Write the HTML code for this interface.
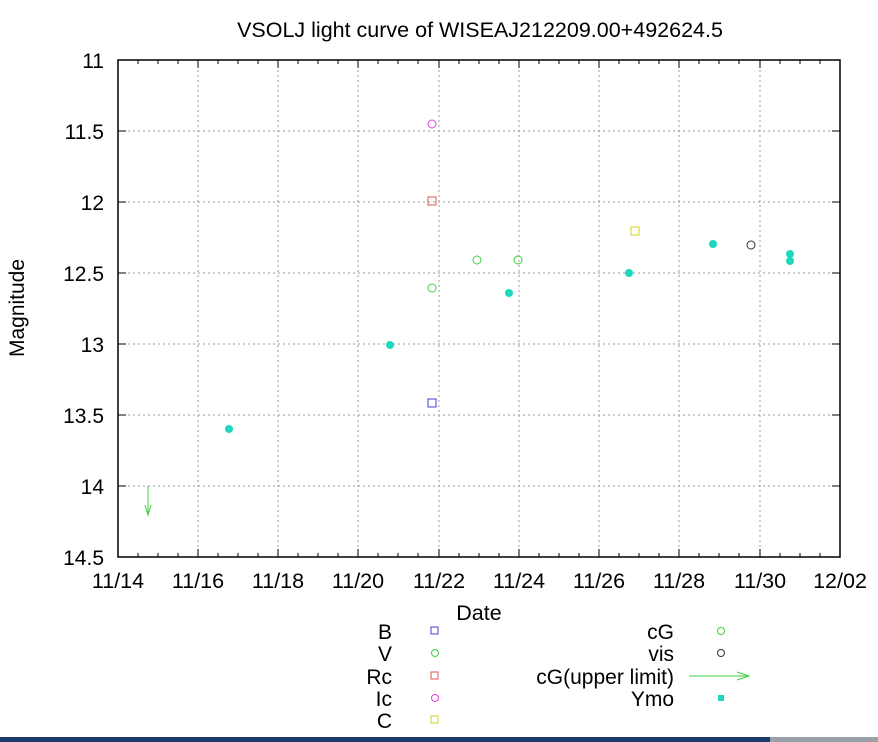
<!DOCTYPE html><html><head><style>body{margin:0;background:#fff}svg{display:block;font-family:"Liberation Sans",sans-serif}</style></head><body>
<svg width="878" height="742" xmlns="http://www.w3.org/2000/svg">
<rect width="878" height="742" fill="#fff"/>
<text x="480" y="37" font-size="21.5" text-anchor="middle">VSOLJ light curve of WISEAJ212209.00+492624.5</text>
<g stroke="#999" stroke-dasharray="2,3" stroke-width="1">
<line x1="118" x2="840" y1="131" y2="131"/><line x1="118" x2="840" y1="202" y2="202"/><line x1="118" x2="840" y1="273" y2="273"/><line x1="118" x2="840" y1="344" y2="344"/><line x1="118" x2="840" y1="415" y2="415"/><line x1="118" x2="840" y1="486" y2="486"/>
<line y1="60" y2="557" x1="198" x2="198"/><line y1="60" y2="557" x1="278" x2="278"/><line y1="60" y2="557" x1="358" x2="358"/><line y1="60" y2="557" x1="439" x2="439"/><line y1="60" y2="557" x1="519" x2="519"/><line y1="60" y2="557" x1="599" x2="599"/><line y1="60" y2="557" x1="679" x2="679"/><line y1="60" y2="557" x1="760" x2="760"/>
</g>
<rect x="118" y="60" width="722" height="497" fill="none" stroke="#000" stroke-width="1.5"/>
<g stroke="#000" stroke-width="1">
<path d="M118 131h8M118 202h8M118 273h8M118 344h8M118 415h8M118 486h8M840 131h-8M840 202h-8M840 273h-8M840 344h-8M840 415h-8M840 486h-8"/>
<path d="M138 557v-4M158 557v-4M178 557v-4M198 557v-8M218 557v-4M238 557v-4M258 557v-4M278 557v-8M298 557v-4M318 557v-4M338 557v-4M358 557v-8M378 557v-4M398 557v-4M418 557v-4M439 557v-8M459 557v-4M479 557v-4M499 557v-4M519 557v-8M539 557v-4M559 557v-4M579 557v-4M599 557v-8M619 557v-4M639 557v-4M659 557v-4M679 557v-8M699 557v-4M719 557v-4M739 557v-4M760 557v-8M780 557v-4M800 557v-4M820 557v-4"/>
<path d="M138 60v4M158 60v4M178 60v4M198 60v8M218 60v4M238 60v4M258 60v4M278 60v8M298 60v4M318 60v4M338 60v4M358 60v8M378 60v4M398 60v4M418 60v4M439 60v8M459 60v4M479 60v4M499 60v4M519 60v8M539 60v4M559 60v4M579 60v4M599 60v8M619 60v4M639 60v4M659 60v4M679 60v8M699 60v4M719 60v4M739 60v4M760 60v8M780 60v4M800 60v4M820 60v4"/>
</g>
<g font-size="21" text-anchor="end">
<text x="104" y="68">11</text><text x="104" y="139">11.5</text><text x="104" y="210">12</text><text x="104" y="281">12.5</text><text x="104" y="352">13</text><text x="104" y="423">13.5</text><text x="104" y="494">14</text><text x="104" y="565">14.5</text>
</g>
<g font-size="21.5" text-anchor="middle">
<text x="118" y="588">11/14</text><text x="198" y="588">11/16</text><text x="278" y="588">11/18</text><text x="358" y="588">11/20</text><text x="439" y="588">11/22</text><text x="519" y="588">11/24</text><text x="599" y="588">11/26</text><text x="679" y="588">11/28</text><text x="760" y="588">11/30</text><text x="840" y="588">12/02</text>
<text x="479" y="620">Date</text>
</g>
<text transform="translate(24 308) rotate(-90)" font-size="21" text-anchor="middle">Magnitude</text>
<g fill="#1cd9bd">
<circle cx="229" cy="429" r="4"/><circle cx="390" cy="345" r="4"/><circle cx="509" cy="293" r="4"/><circle cx="629" cy="273" r="4"/><circle cx="713" cy="244" r="4"/><circle cx="790" cy="254" r="4"/><circle cx="790" cy="261" r="4"/>
</g>
<g fill="none" stroke-width="1">
<circle cx="432" cy="124" r="4" stroke="#e040e0"/>
<rect x="428" y="197" width="8" height="8" stroke="#e05050"/>
<circle cx="432" cy="288" r="4" stroke="#40d040"/>
<rect x="428" y="399" width="8" height="8" stroke="#4040d0"/>
<circle cx="477" cy="260" r="4" stroke="#40d040"/>
<circle cx="518" cy="260" r="4" stroke="#40d040"/>
<rect x="631" y="227" width="8" height="8" stroke="#d0d020"/>
<circle cx="751" cy="245" r="4" stroke="#333"/>
<path d="M148 486v29M145 505l3 10 3-10" stroke="#40d040"/>
</g>
<g font-size="21" text-anchor="end">
<text x="392" y="639">B</text><text x="392" y="661">V</text><text x="392" y="684">Rc</text><text x="392" y="706">Ic</text><text x="392" y="728">C</text>
<text x="674" y="639">cG</text><text x="674" y="661">vis</text><text x="674" y="684">cG(upper limit)</text><text x="674" y="706">Ymo</text>
</g>
<g fill="none">
<rect x="431" y="627" width="7" height="7" stroke="#4040d0"/>
<circle cx="435" cy="653" r="3.5" stroke="#40d040"/>
<rect x="431" y="672" width="7" height="7" stroke="#e05050"/>
<circle cx="435" cy="698" r="3.5" stroke="#e040e0"/>
<rect x="431" y="716" width="7" height="7" stroke="#d0d020"/>
<circle cx="721" cy="631" r="3.5" stroke="#40d040"/>
<circle cx="721" cy="653" r="3.5" stroke="#333"/>
<path d="M689 676h60M737 672l12 4-12 4" stroke="#40d040"/>
</g>
<rect x="718" y="695" width="6" height="6" fill="#1cd9bd"/>
<rect x="0" y="737" width="878" height="5" fill="#1a3a6a"/>
<rect x="770" y="737" width="108" height="5" fill="#9aa0a8"/>
</svg>
</body></html>
